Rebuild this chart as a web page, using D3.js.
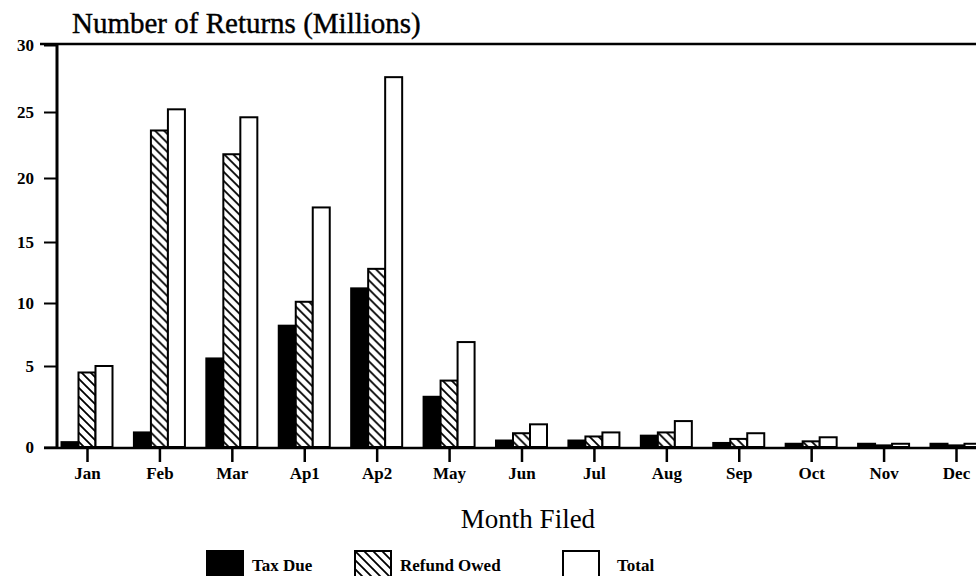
<!DOCTYPE html>
<html>
<head>
<meta charset="utf-8">
<script src="https://cdn.jsdelivr.net/npm/d3@7"></script>
<style>
  body { margin: 0; background: #fff; }
  svg { display: block; font-family: "Liberation Serif", "DejaVu Serif", serif; }
</style>
</head>
<body>
<div id="chart"></div>
<script>
// values (millions of returns)
var months = ["Jan", "Feb", "Mar", "Ap1", "Ap2", "May", "Jun", "Jul", "Aug", "Sep", "Oct", "Nov", "Dec"];
var taxDue = [0.3, 0.9, 5.6, 8.2, 11.2, 3.1, 0.4, 0.4, 0.7, 0.25, 0.2, 0.2, 0.2];
var refundOwed = [4.6, 23.6, 21.8, 10.1, 12.8, 4.1, 0.85, 0.65, 0.9, 0.5, 0.35, 0.1, 0.1];
var total = [5.0, 25.2, 24.6, 17.7, 27.6, 6.9, 1.4, 0.9, 1.6, 0.85, 0.6, 0.2, 0.2];
var yTicks = [0, 5, 10, 15, 20, 25, 30];
var seriesNames = ["Tax Due", "Refund Owed", "Total"];

var width = 976, height = 576;

var svg = d3.select("#chart")
    .append("svg")
    .attr("width", width)
    .attr("height", height);

var defs = svg.append("defs");
var hatch = defs.append("pattern")
    .attr("id", "hatch")
    .attr("patternUnits", "userSpaceOnUse")
    .attr("width", 9)
    .attr("height", 9);
hatch.append("rect").attr("width", 9).attr("height", 9).attr("fill", "#fff");
hatch.append("path")
    .attr("d", "M-1,-1 L10,10 M-3,6 L3,12 M6,-3 L12,3")
    .attr("stroke", "#000")
    .attr("stroke-width", 1.8);

var fills = ["#000", "url(#hatch)", "#fff"];

// the original axis is not quite even, so the scale follows its ticks
var y = d3.scaleLinear()
    .domain(yTicks)
    .range([447, 366, 303, 242, 178, 112, 45]);

var x = d3.scalePoint()
    .domain(months)
    .range([87, 956]);

var groupW = 51;
var x1 = d3.scaleBand()
    .domain(seriesNames)
    .range([-groupW / 2, groupW / 2]);

var rows = months.map(function (m, i) {
  return { month: m, values: [taxDue[i], refundOwed[i], total[i]] };
});

var clip = defs.append("clipPath").attr("id", "plotclip");
clip.append("rect").attr("x", 0).attr("y", 0).attr("width", width).attr("height", 449);

var groups = svg.append("g")
    .attr("clip-path", "url(#plotclip)")
    .selectAll("g.month")
    .data(rows)
    .enter()
    .append("g")
    .attr("class", "month")
    .attr("transform", function (d) { return "translate(" + x(d.month) + ",0)"; });

groups.selectAll("rect")
    .data(function (d) { return d.values.map(function (v, k) { return { key: seriesNames[k], value: v, k: k }; }); })
    .enter()
    .append("rect")
    .attr("x", function (d) { return x1(d.key); })
    .attr("width", x1.bandwidth())
    .attr("y", function (d) { return y(d.value); })
    .attr("height", function (d) { return y(0) - y(d.value); })
    .attr("fill", function (d) { return fills[d.k]; })
    .attr("stroke", "#000")
    .attr("stroke-width", 2);

// y axis
var yAxis = svg.append("g")
    .attr("transform", "translate(57,0)")
    .call(d3.axisLeft(y).tickValues(yTicks).tickSize(13).tickPadding(10));
yAxis.select(".domain").remove();
yAxis.selectAll(".tick line").attr("stroke-width", 2);
yAxis.selectAll(".tick text")
    .attr("font-size", 17)
    .attr("font-weight", "bold")
    .attr("font-family", "Liberation Serif")
    .attr("fill", "#000");

svg.append("line")
    .attr("x1", 57).attr("x2", 57)
    .attr("y1", 44).attr("y2", 448)
    .attr("stroke", "#000").attr("stroke-width", 3);

// top frame line
svg.append("line")
    .attr("x1", 40).attr("x2", width)
    .attr("y1", 44).attr("y2", 44)
    .attr("stroke", "#000").attr("stroke-width", 2.5);

// x axis
var xAxis = svg.append("g")
    .attr("transform", "translate(0,448)")
    .call(d3.axisBottom(x).tickSize(14).tickPadding(5));
xAxis.select(".domain").remove();
xAxis.selectAll(".tick line").attr("stroke-width", 2.5);
xAxis.selectAll(".tick text")
    .attr("font-size", 17)
    .attr("font-weight", "bold")
    .attr("font-family", "Liberation Serif")
    .attr("fill", "#000");

svg.append("line")
    .attr("x1", 44).attr("x2", width)
    .attr("y1", 448).attr("y2", 448)
    .attr("stroke", "#000").attr("stroke-width", 2.5);

// titles
svg.append("text")
    .attr("x", 72)
    .attr("y", 33)
    .attr("font-size", 29)
    .attr("fill", "#000")
    .attr("stroke", "#000")
    .attr("stroke-width", 0.4)
    .text("Number of Returns (Millions)");

svg.append("text")
    .attr("x", 528)
    .attr("y", 528)
    .attr("text-anchor", "middle")
    .attr("font-size", 27)
    .attr("fill", "#000")
    .text("Month Filed");

// legend
var legendX = [207, 355, 563];
var legend = svg.append("g")
    .selectAll("g")
    .data(seriesNames)
    .enter()
    .append("g")
    .attr("transform", function (d, i) { return "translate(" + legendX[i] + ",551)"; });

legend.append("rect")
    .attr("width", 36)
    .attr("height", 30)
    .attr("fill", function (d, i) { return fills[i]; })
    .attr("stroke", "#000")
    .attr("stroke-width", 2);

legend.append("text")
    .attr("x", function (d, i) { return i === 2 ? 54 : 45; })
    .attr("y", 20)
    .attr("font-size", 17)
    .attr("font-weight", "bold")
    .attr("fill", "#000")
    .text(function (d) { return d; });
</script>
</body>
</html>
